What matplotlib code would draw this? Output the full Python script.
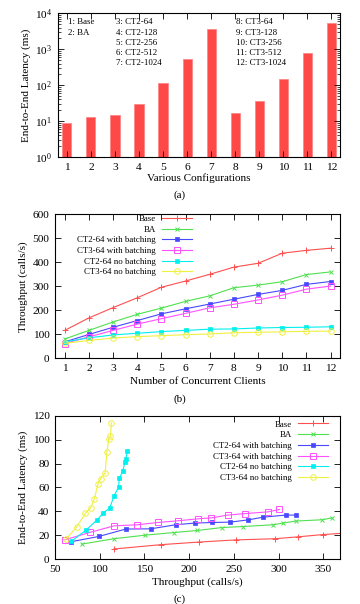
"""Latency / throughput figure, three stacked panels in gnuplot style."""

import matplotlib

matplotlib.use("Agg")
from matplotlib import pyplot as plt  # noqa: E402

# (a) end-to-end latency per configuration
config_ids = list(range(1, 13))
config_names = [
    "1: Base", "2: BA",
    "3: CT2-64", "4: CT2-128", "5: CT2-256", "6: CT2-512", "7: CT2-1024",
    "8: CT3-64", "9: CT3-128", "10: CT3-256", "11: CT3-512", "12: CT3-1024",
]
config_latency = [9, 13, 15, 30, 115, 550, 3600, 17, 37, 150, 800, 5200]

# (b) throughput vs number of clients, reused as x in (c)
clients = list(range(1, 13))
series_names = [
    "Base", "BA", "CT2-64 with batching", "CT3-64 with batching",
    "CT2-64 no batching", "CT3-64 no batching",
]
tput_base = [116, 168, 211, 252, 296, 322, 350, 380, 396, 438, 450, 459]
tput_ba = [80, 116, 151, 183, 209, 237, 260, 294, 305, 319, 349, 360]
tput_ct2_b = [68, 99, 129, 157, 185, 206, 226, 246, 266, 283, 308, 320]
tput_ct3_b = [61, 89, 116, 142, 165, 187, 210, 225, 243, 263, 288, 301]
tput_ct2_nb = [68, 85, 97, 104, 111, 116, 121, 122, 126, 128, 129, 131]
tput_ct3_nb = [62, 74, 84, 90, 94, 98, 101, 106, 108, 110, 112, 113]

# (c) latency (ms) for the same runs
lat_base = [8.4, 12.0, 14.2, 16.0, 17.0, 18.6, 20.5, 22.0, 23.5, 25.0, 27.0, 28.0]
lat_ba = [12.5, 17.0, 20.0, 22.2, 23.9, 26.4, 27.2, 28.7, 30.1, 31.8, 32.9, 34.5]
lat_ct2_b = [14.5, 18.9, 25.1, 25.3, 28.7, 30.1, 30.6, 30.9, 32.8, 35.1, 36.8, 36.8]
lat_ct3_b = [16.1, 22.3, 27.8, 28.7, 30.6, 32.0, 33.7, 34.5, 36.8, 38.1, 39.5, 41.5]
lat_ct2_nb = [14.7, 24.5, 32.8, 38.7, 42.6, 52.9, 60.2, 67.9, 74.1, 81.1, 84.1, 90.3]
lat_ct3_nb = [16.5, 26.7, 38.4, 43.1, 50.7, 62.9, 67.4, 72.1, 89.9, 100.3, 103.3, 114.2]

throughputs = [tput_base, tput_ba, tput_ct2_b, tput_ct3_b, tput_ct2_nb, tput_ct3_nb]
latencies = [lat_base, lat_ba, lat_ct2_b, lat_ct3_b, lat_ct2_nb, lat_ct3_nb]

styles = [
    dict(color="#ff5050", marker="+", ms=4, mew=0.7),
    dict(color="#50e050", marker="x", ms=3, mew=0.7),
    dict(color="#4848ff", marker="s", ms=2.5, mew=0.5),
    dict(color="#ff50ff", marker="s", ms=4, mew=0.7, mfc="none"),
    dict(color="#00f0f0", marker="s", ms=3.5, mew=0.5),
    dict(color="#f0f040", marker="o", ms=4, mew=0.7, mfc="none"),
]

plt.rcParams["font.family"] = ["Liberation Serif", "DejaVu Serif"]
plt.rcParams["mathtext.fontset"] = "custom"
plt.rcParams["mathtext.rm"] = "Liberation Serif"
plt.rcParams["mathtext.default"] = "regular"
plt.rcParams["font.size"] = 8
plt.rcParams["axes.linewidth"] = 0.8

KEY_SIZE = 6.4


def _gnuplot_axes(ax):
    ax.tick_params(which="both", direction="in", top=True, right=True, labelsize=8.2)
    ax.tick_params(which="major", length=4, width=0.6, pad=4)
    ax.tick_params(which="minor", length=2, width=0.5)


def _gnuplot_key(ax, anchor):
    ax.legend(loc="upper right", bbox_to_anchor=anchor, frameon=False, markerfirst=False,
              numpoints=1, handlelength=3.4, handletextpad=0.7, labelspacing=0.28,
              fontsize=KEY_SIZE, borderaxespad=0, borderpad=0)


fig = plt.figure(figsize=(3.6, 6.04), dpi=100)

# (a)
ax = fig.add_axes([0.161, 0.740, 0.783, 0.238])
ax.bar(config_ids, [v - 1 for v in config_latency], bottom=1, width=0.38,
       color="#ff4848", edgecolor="#ff8080", linewidth=0.5)
ax.set_yscale("log")
ax.set_ylim(1, 1e4)
ax.set_xlim(0.63, 12.35)
ax.set_xticks(config_ids)
ax.set_ylabel("End-to-End Latency (ms)", labelpad=3)
ax.set_xlabel("Various Configurations", labelpad=1)
_gnuplot_axes(ax)
col_x = [0.035, 0.035, 0.206, 0.206, 0.206, 0.206, 0.206, 0.631, 0.631, 0.631, 0.631, 0.631]
row_y = [0.94, 0.865, 0.94, 0.865, 0.795, 0.725, 0.655, 0.94, 0.865, 0.795, 0.725, 0.655]
for name, tx, ty in zip(config_names, col_x, row_y):
    ax.text(tx, ty, name, transform=ax.transAxes, fontsize=KEY_SIZE, va="center", ha="left")
fig.text(0.5, 1 - 195 / 604, "(a)", ha="center", va="center", fontsize=8)

# (b)
ax = fig.add_axes([0.153, 0.407, 0.792, 0.238])
for name, tput, st in zip(series_names, throughputs, styles):
    ax.plot(clients, tput, lw=0.8, label=name, **st)
ax.set_xlim(0.6, 12.4)
ax.set_ylim(0, 600)
ax.set_xticks(clients)
ax.set_ylabel("Throughput (calls/s)", labelpad=3)
ax.set_xlabel("Number of Concurrent Clients", labelpad=3)
_gnuplot_axes(ax)
_gnuplot_key(ax, (0.481, 0.998))
fig.text(0.5, 1 - 399 / 604, "(b)", ha="center", va="center", fontsize=8)

# (c)
ax = fig.add_axes([0.153, 0.0745, 0.792, 0.237])
for name, tput, lat, st in zip(series_names, throughputs, latencies, styles):
    ax.plot(tput, lat, lw=0.8, label=name, **st)
ax.set_xlim(50, 369)
ax.set_ylim(0, 120)
ax.set_xticks(range(50, 351, 50))
ax.set_yticks(range(0, 121, 20))
ax.set_ylabel("End-to-End Latency (ms)", labelpad=3)
ax.set_xlabel("Throughput (calls/s)", labelpad=3)
_gnuplot_axes(ax)
_gnuplot_key(ax, (0.958, 0.969))
fig.text(0.5, 1 - 599 / 604, "(c)", ha="center", va="center", fontsize=8)

fig.savefig("out.png", dpi=100)
